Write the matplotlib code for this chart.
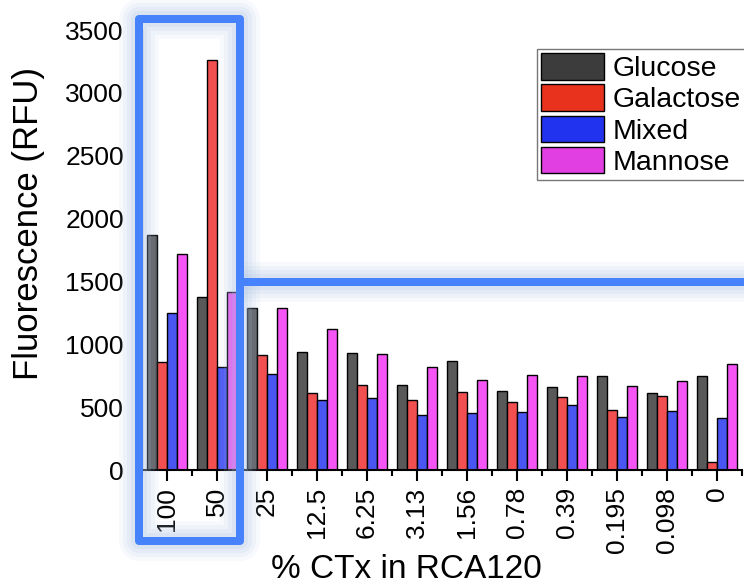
import numpy as np
import matplotlib
matplotlib.use("Agg")
import matplotlib.pyplot as plt
from matplotlib.lines import Line2D
from matplotlib.patches import Patch

plt.rcParams["font.family"] = ["Liberation Sans", "DejaVu Sans"]

# data
concentrations = ["100", "50", "25", "12.5", "6.25", "3.13", "1.56",
                  "0.78", "0.39", "0.195", "0.098", "0"]
glucose   = [1870, 1380, 1290, 935, 930, 680, 865, 625, 660, 745, 615, 750]
galactose = [860, 3260, 915, 610, 675, 555, 620, 540, 580, 480, 590, 62]
mixed     = [1250, 820, 760, 560, 575, 440, 455, 462, 518, 420, 468, 410]
mannose   = [1720, 1415, 1285, 1120, 925, 820, 712, 752, 748, 672, 710, 840]

series = [("Glucose", glucose), ("Galactose", galactose),
          ("Mixed", mixed), ("Mannose", mannose)]
bar_colors = ["#595959", "#f25050", "#4a56f2", "#f455f4"]
leg_colors = ["#3c3c3c", "#e8321e", "#2233f0", "#e23fe2"]

W, H = 744, 585
fig = plt.figure(figsize=(W / 100, H / 100), dpi=100)
ax = fig.add_axes([142 / W, 1 - 470 / H, 600 / W, 440 / H])

x = np.arange(len(concentrations))
bw = 0.2
for i, (name, vals) in enumerate(series):
    ax.bar(x + (i - 1.5) * bw, vals, bw, color=bar_colors[i],
           edgecolor="black", linewidth=1.0, zorder=2)

ax.set_xlim(-0.5, len(concentrations) - 0.5)
ax.set_ylim(0, 3500)
ax.set_yticks(np.arange(0, 3501, 500))
ax.tick_params(axis="y", labelsize=19, length=4, width=0.8, pad=9)
ax.set_xticks(x)
ax.set_xticklabels(concentrations, rotation=90, fontsize=19)
ax.set_xticks(np.arange(-0.5, len(concentrations), 1), minor=True)
ax.tick_params(axis="x", which="major", length=8, width=1.5, pad=4)
ax.tick_params(axis="x", which="minor", length=4, width=1.5)
for s in ["top", "right"]:
    ax.spines[s].set_visible(False)
ax.spines["bottom"].set_linewidth(1.5)
ax.spines["left"].set_linewidth(1.0)
ax.spines["left"].set_color("#888888")

fig.text(29 / W, 1 - 224 / H, "Fluorescence (RFU)", rotation=90,
         ha="center", va="center", fontsize=25)
fig.text(406 / W, 1 - 569 / H, "% CTx in RCA120",
         ha="center", va="center", fontsize=24)

handles = [Patch(facecolor=c, edgecolor="black", linewidth=1.0) for c in leg_colors]
leg = fig.legend(handles, [s[0] for s in series], loc="upper right",
                 bbox_to_anchor=(745 / W, 1 - 49 / H), fontsize=20.5,
                 fancybox=False, edgecolor="#777777", framealpha=1,
                 handlelength=2.2, handleheight=1.05, labelspacing=0.08,
                 handletextpad=0.3, borderpad=0.15, borderaxespad=0)
leg.get_frame().set_linewidth(1.0)

# blue highlight box with soft glow
bx = [189, 240, 240, 139, 139, 189]
by = [19, 19, 541, 541, 19, 19]
hx = [240, 744]
hy = [282, 282]
def fx(v): return [p / W for p in v]
def fy(v): return [1 - p / H for p in v]
for lw, a in [(40, 0.09), (32, 0.11), (24, 0.14), (16, 0.18)]:
    for px, py in [(bx, by), (hx, hy)]:
        fig.add_artist(Line2D(fx(px), fy(py), transform=fig.transFigure,
                              color="#a9c2e4", lw=lw * 0.72, alpha=a,
                              solid_joinstyle="round", solid_capstyle="butt"))
for px, py in [(bx, by), (hx, hy)]:
    fig.add_artist(Line2D(fx(px), fy(py), transform=fig.transFigure,
                          color="#4582fb", lw=8 * 0.72,
                          solid_joinstyle="round", solid_capstyle="butt"))

fig.savefig("out.png", dpi=100)
